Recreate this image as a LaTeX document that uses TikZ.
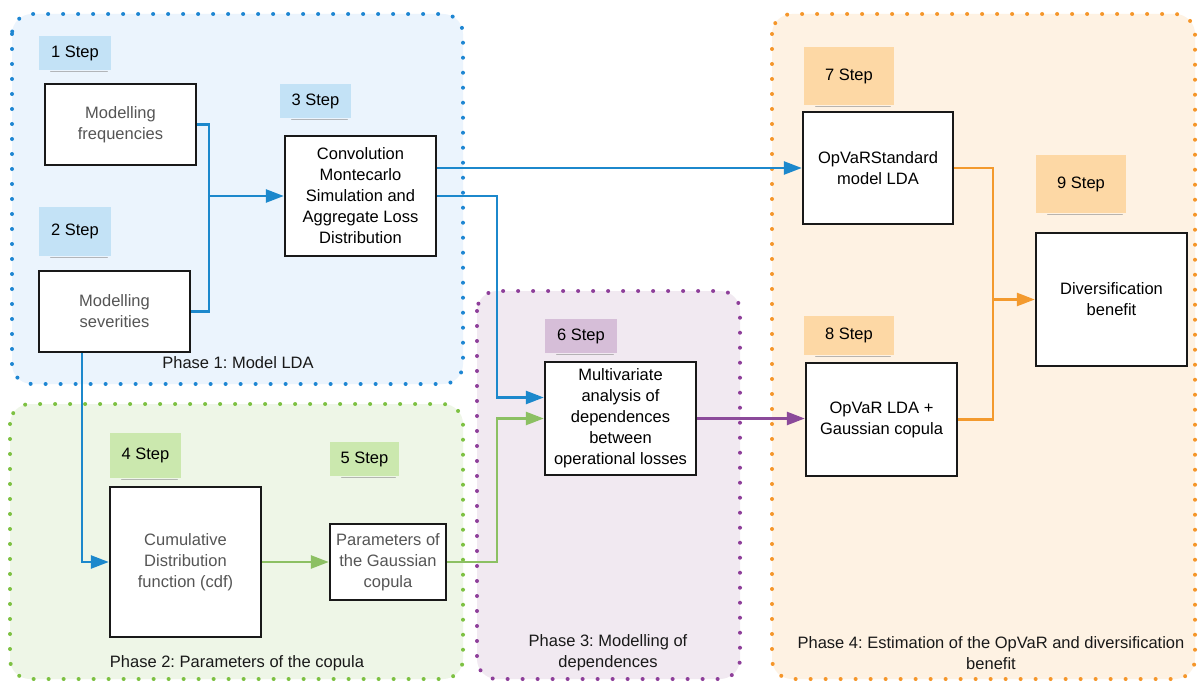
\documentclass[tikz,border=0pt]{standalone}
\usepackage{fontspec}
\setmainfont{Liberation Sans}
\usetikzlibrary{arrows.meta}
\frenchspacing
\definecolor{bluefill}{HTML}{EBF4FD}
\definecolor{bluedot}{HTML}{1E86D2}
\definecolor{greenfill}{HTML}{EEF6E7}
\definecolor{greendot}{HTML}{7DC142}
\definecolor{purplefill}{HTML}{F1E9F1}
\definecolor{purpledot}{HTML}{8E3F9A}
\definecolor{orangefill}{HTML}{FEF2E3}
\definecolor{orangedot}{HTML}{F5962A}
\definecolor{bluesticky}{HTML}{C3E2F6}
\definecolor{greensticky}{HTML}{CBE8AE}
\definecolor{purplesticky}{HTML}{D6BED8}
\definecolor{orangesticky}{HTML}{FDD8A5}
\definecolor{blueline}{HTML}{1C88CC}
\definecolor{greenline}{HTML}{8CC063}
\definecolor{purpleline}{HTML}{8B4A9A}
\definecolor{orangeline}{HTML}{F39A2E}
\definecolor{greytext}{HTML}{555555}
\tikzset{
  phase/.style={rounded corners=20pt, line width=4pt, line cap=round, dash pattern=on 0pt off 15pt},
  box/.style={draw=black!90, fill=white, line width=2.4pt, inner sep=2pt, align=center,
    font=\fontsize{16.5}{21}\selectfont, text=black},
  greybox/.style={box, text=greytext},
  sticky/.style={inner sep=0pt, align=center, font=\fontsize{16.5}{21}\selectfont, text=black},
  phaselabel/.style={align=center, font=\fontsize{16.5}{21}\selectfont, text=black!90},
  conn/.style={line width=2.6pt},
  arr/.style={conn, -{Triangle[length=18pt,width=13pt]}},
}
\newcommand{\stickyshadow}[1]{\draw[black!45, opacity=0.6, line width=1.5pt, line cap=round]
  ([xshift=12pt,yshift=-1.5pt]#1.south west) -- ([xshift=-4pt,yshift=-1.5pt]#1.south east);}
\begin{document}
\begin{tikzpicture}[x=1pt,y=-1pt]
\useasboundingbox (0,0) rectangle (1198,682);
\fill[white] (0,0) rectangle (1198,682);
% phases
\draw[phase, fill=bluefill, draw=bluedot] (12,14) rectangle (463,384);
\draw[phase, fill=greenfill, draw=greendot] (10,404) rectangle (463,679);
\draw[phase, fill=purplefill, draw=purpledot] (477,291) rectangle (740,679);
\draw[phase, fill=orangefill, draw=orangedot] (772,14) rectangle (1195,679);
% phase labels
\node[phaselabel] (p1) at (238,363) {Phase 1: Model LDA};
\node[phaselabel] (p2) at (237,663) {Phase 2: Parameters of the copula};
\node[phaselabel] (p3) at (608,653) {Phase 3: Modelling of\\dependences};
\node[phaselabel] (p4) at (991,653) {Phase 4: Estimation of the OpVaR and diversification\\benefit};
% stickies
\node[sticky, fill=bluesticky, minimum width=72pt, minimum height=34pt] (s1) at (75,53) {1 Step};
\node[sticky, fill=bluesticky, minimum width=72pt, minimum height=49pt] (s2) at (75,231.5) {2 Step};
\node[sticky, fill=bluesticky, minimum width=71pt, minimum height=34pt] (s3) at (315.5,101) {3 Step};
\node[sticky, fill=greensticky, minimum width=71pt, minimum height=45pt] (s4) at (145.5,455.5) {4 Step};
\node[sticky, fill=greensticky, minimum width=69pt, minimum height=34pt] (s5) at (364.5,459) {5 Step};
\node[sticky, fill=purplesticky, minimum width=72pt, minimum height=34pt] (s6) at (581,336) {6 Step};
\node[sticky, fill=orangesticky, minimum width=90pt, minimum height=58pt] (s7) at (849,76) {7 Step};
\node[sticky, fill=orangesticky, minimum width=90pt, minimum height=39pt] (s8) at (849,335.5) {8 Step};
\node[sticky, fill=orangesticky, minimum width=90pt, minimum height=58pt] (s9) at (1081,184) {9 Step};
\foreach \s in {s1,s2,s3,s4,s5,s6,s7,s8,s9} {\stickyshadow{\s}}
% boxes
\node[greybox, minimum width=151pt, minimum height=81pt] (freq) at (120.5,124.5) {Modelling\\frequencies};
\node[greybox, minimum width=151pt, minimum height=81pt] (sev) at (114.5,311.5) {Modelling\\severities};
\node[box, minimum width=151pt, minimum height=120pt] (conv) at (360.5,196) {Convolution\\Montecarlo\\Simulation and\\Aggregate Loss\\Distribution};
\node[greybox, minimum width=151pt, minimum height=150pt] (cdf) at (185.5,562) {Cumulative\\Distribution\\function (cdf)};
\node[greybox, minimum width=116pt, minimum height=76pt] (params) at (388,562) {Parameters of\\the Gaussian\\copula};
\node[box, minimum width=151pt, minimum height=113pt] (multi) at (620.5,418.5) {Multivariate\\analysis of\\dependences\\between\\operational losses};
\node[box, minimum width=150pt, minimum height=112pt] (std) at (878,168) {OpVaRStandard\\model LDA};
\node[box, minimum width=151pt, minimum height=113pt] (lda) at (881.5,419.5) {OpVaR LDA +\\Gaussian copula};
\node[box, minimum width=151pt, minimum height=133pt] (div) at (1111.5,299.5) {Diversification\\benefit};
% connectors
\coordinate (j1) at (209,196);
\draw[conn, blueline] (freq.east) -- (j1 |- freq.east) -- (j1 |- sev.east) -- (sev.east);
\draw[arr, blueline] (j1) -- (conv.west);
\draw[arr, blueline] (conv.east |- std.west) -- (std.west);
\coordinate (j2) at (497,196);
\coordinate (m1) at ([yshift=21pt]multi.west);
\draw[arr, blueline] (conv.east |- j2) -- (j2) -- (j2 |- m1) -- (m1);
\draw[arr, blueline] ([xshift=-32.5pt]sev.south) -- ([xshift=-32.5pt]sev.south |- cdf.west) -- (cdf.west);
\draw[arr, greenline] (cdf.east) -- (params.west);
\draw[arr, greenline] (params.east) -- (j2 |- params.east) -- (j2 |- multi.west) -- (multi.west);
\draw[arr, purpleline] (multi.east) -- (multi.east -| lda.west);
\coordinate (j3) at (993,299.5);
\draw[conn, orangeline] (std.east) -- (j3 |- std.east) -- (j3 |- lda.east) -- (lda.east);
\draw[arr, orangeline] (j3) -- (div.west);
\end{tikzpicture}
\end{document}
